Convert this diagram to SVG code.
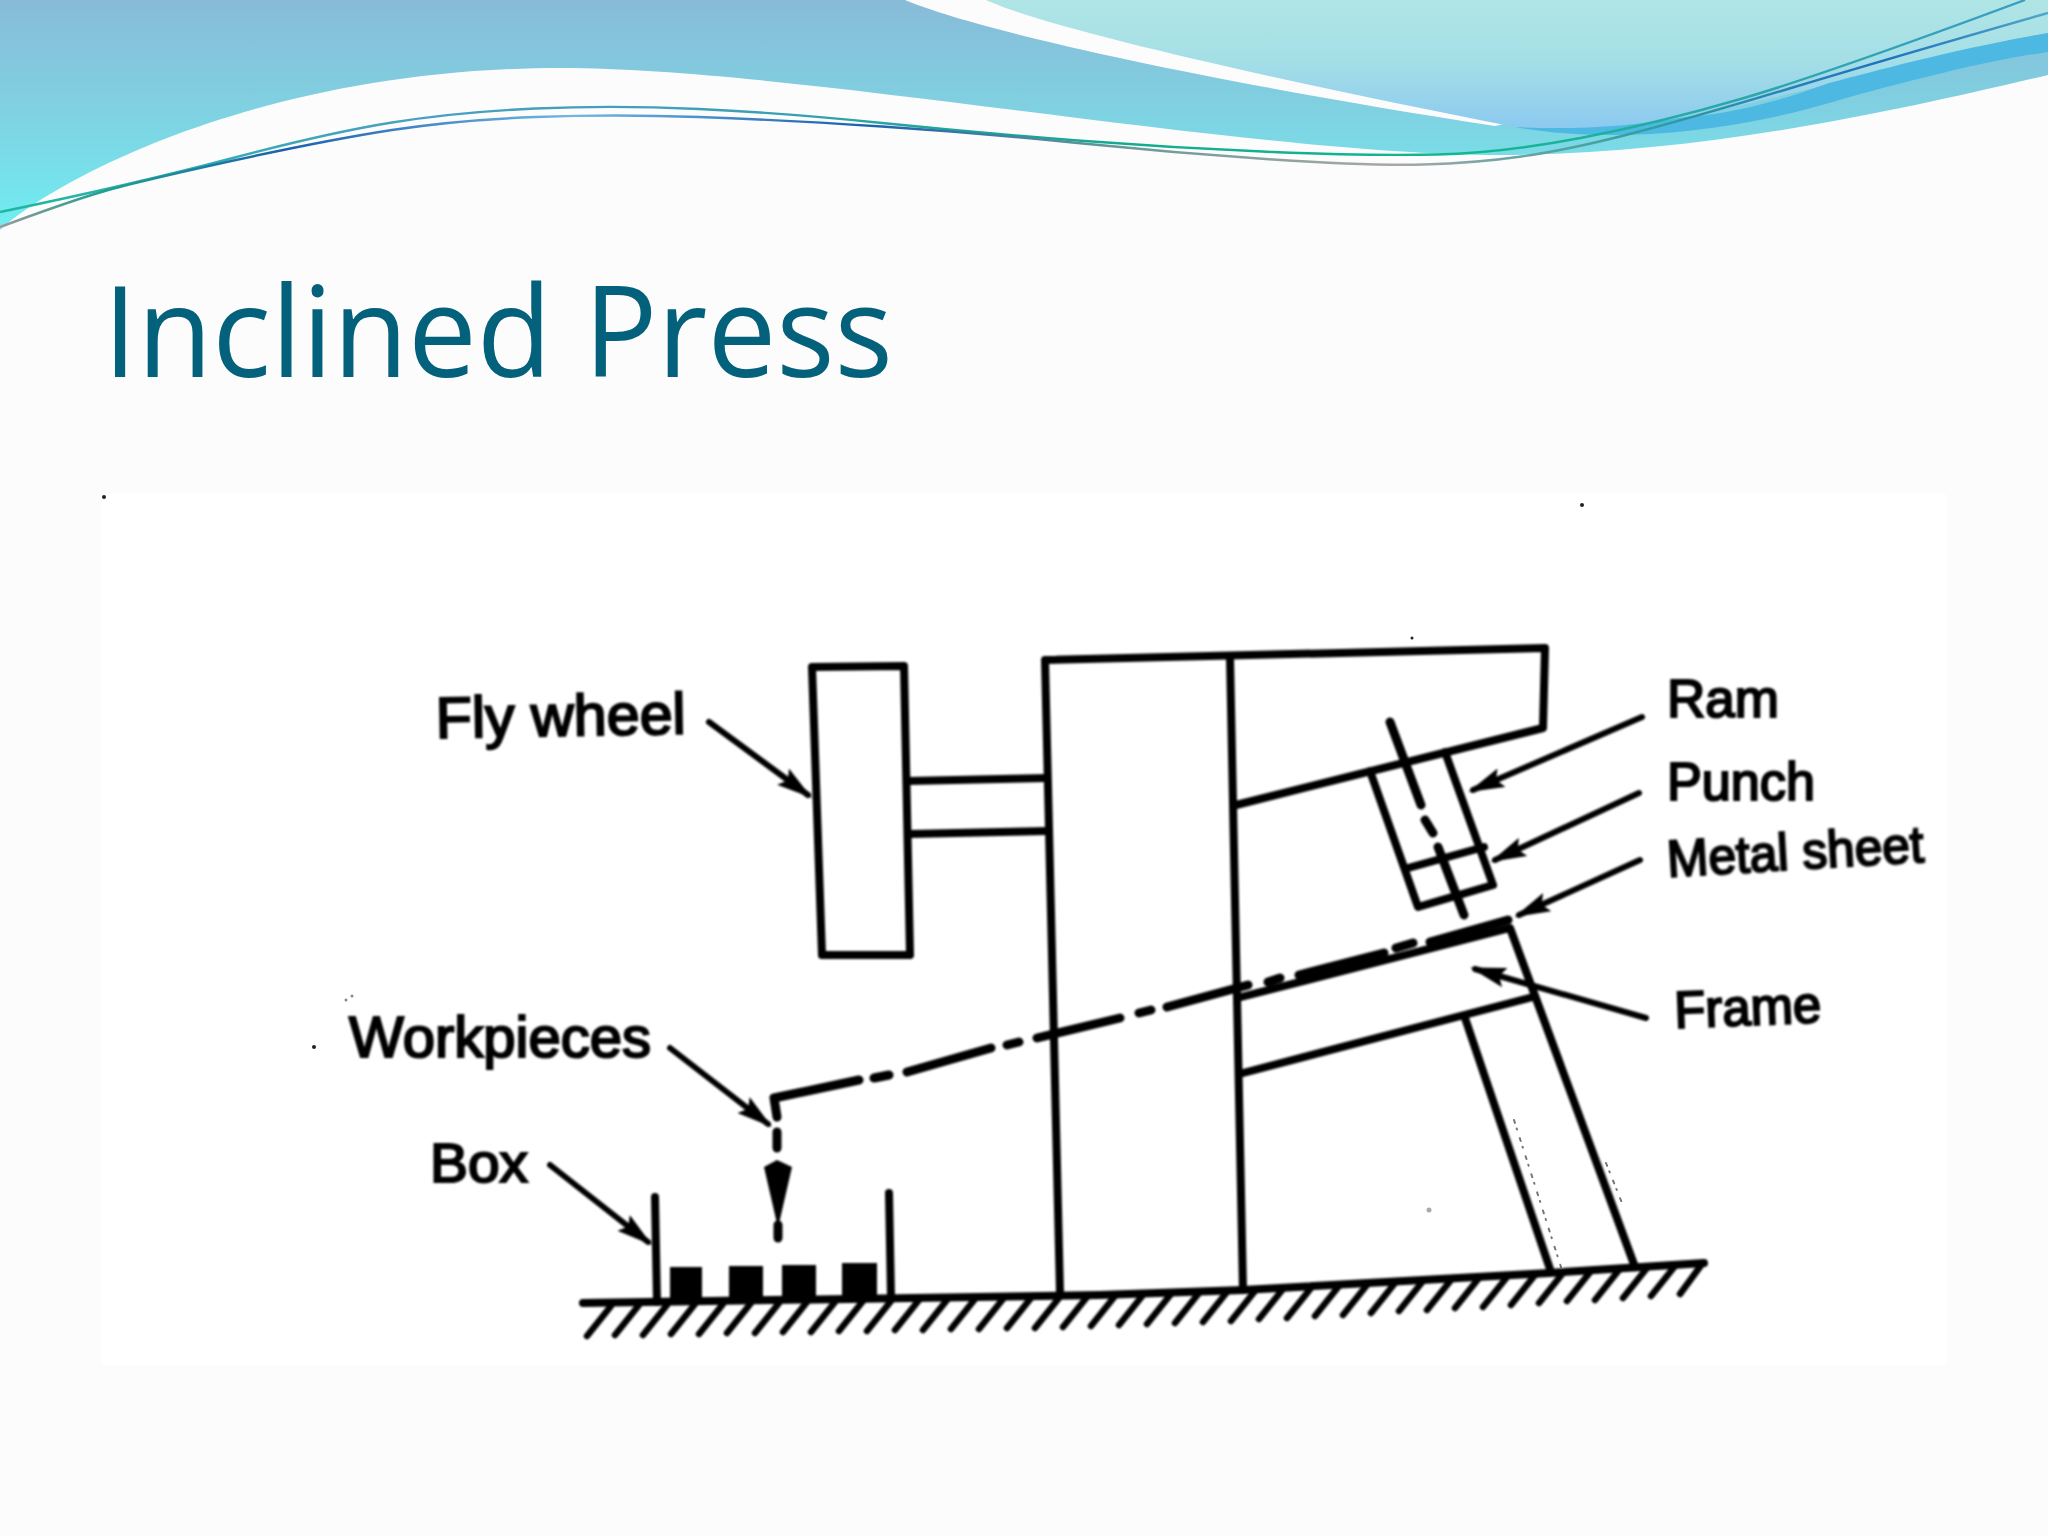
<svg xmlns="http://www.w3.org/2000/svg" width="2048" height="1536" viewBox="0 0 2048 1536">
<defs>
<linearGradient id="bandBlue" x1="0" y1="0" x2="0" y2="230" gradientUnits="userSpaceOnUse"><stop offset="0" stop-color="#88bbd8"/><stop offset="0.5" stop-color="#7fd2e2"/><stop offset="1" stop-color="#70eef2"/></linearGradient>
<linearGradient id="bandLight" x1="0" y1="0" x2="0" y2="130" gradientUnits="userSpaceOnUse"><stop offset="0" stop-color="#b0e5e5"/><stop offset="0.45" stop-color="#a5dfe6"/><stop offset="1" stop-color="#8bc9f0"/></linearGradient>
<linearGradient id="lineA" x1="0" y1="0" x2="2048" y2="0" gradientUnits="userSpaceOnUse"><stop offset="0" stop-color="#1cb8a0"/><stop offset="0.2" stop-color="#4aa0c0"/><stop offset="0.35" stop-color="#3f9fb8"/><stop offset="0.5" stop-color="#14a890"/><stop offset="0.72" stop-color="#10b890"/><stop offset="0.85" stop-color="#2aa8a8"/><stop offset="1" stop-color="#3a9cc8"/></linearGradient>
<linearGradient id="lineB" x1="0" y1="0" x2="2048" y2="0" gradientUnits="userSpaceOnUse"><stop offset="0" stop-color="#999999"/><stop offset="0.05" stop-color="#20a090"/><stop offset="0.14" stop-color="#1c60b0"/><stop offset="0.28" stop-color="#70b8e0"/><stop offset="0.42" stop-color="#1c60b0"/><stop offset="0.55" stop-color="#6a9a98"/><stop offset="0.68" stop-color="#a8a8a8"/><stop offset="0.8" stop-color="#30a0a0"/><stop offset="0.92" stop-color="#2070c0"/><stop offset="1" stop-color="#50a8c8"/></linearGradient>
<filter id="soft" x="-5%" y="-5%" width="110%" height="110%"><feGaussianBlur stdDeviation="0.9"/></filter>
<marker id="head" viewBox="0 0 36 20" refX="31" refY="10" markerWidth="36" markerHeight="20" markerUnits="userSpaceOnUse" orient="auto"><path d="M0,0 L36,10 L0,20 L6,10 Z" fill="#000"/></marker>
</defs>
<style>
.ink{fill:none;stroke:#000;stroke-width:8;stroke-linecap:round;stroke-linejoin:round}
.hatch{fill:none;stroke:#000;stroke-width:6.5;stroke-linecap:round}
.dash{fill:none;stroke:#000;stroke-width:9;stroke-linecap:round;stroke-linejoin:round}
.lead{fill:none;stroke:#000;stroke-width:6;stroke-linecap:round;marker-end:url(#head)}
.label{font-family:"Liberation Sans",Arial,sans-serif;fill:#000;stroke:#000;stroke-width:2.2}
.dust{fill:none;stroke:#777;stroke-width:2;stroke-dasharray:3 6 1 9;stroke-linecap:round}
</style>
<rect id="background" width="2048" height="1536" fill="#fdfcfd"/>
<g id="waves">
<path d="M0,0 H905 C990,35 1230,85 1495,126 L2048,0 V75 C1900,110 1700,155 1500,155 C1250,155 800,68 562,68 C260,68 55,180 0,230 Z" fill="url(#bandBlue)"/>
<path d="M986,0 C1050,30 1300,85 1515,127 C1570,134 1630,127 1685,117 C1760,105 1950,50 2048,33 V0 Z" fill="url(#bandLight)"/>
<path d="M1515,127 C1600,143 1720,135 1829,103 C1910,80 1990,60 2048,52 V33 C1950,50 1880,70 1829,83 C1770,105 1720,115 1685,117 C1630,127 1570,130 1515,127 Z" fill="#4db8e2"/>
<path d="M0,212 Q131,185 229,159 T392,122.5 T535.5,108.5 T699,109 T882,123 T1077.5,140.5 T1273,152 T1436.5,154.5 T1580.5,138 T1744,98 T2025,0" fill="none" stroke="url(#lineA)" stroke-width="2.4"/>
<path d="M0,227 Q65,203 98,193 T229,161.5 T392,130 T535.5,117 T699,117 T882,126.5 T1077.5,143 T1273,159.5 T1423.5,164.5 T1521.5,156.5 T1626,135 T1789.5,88.5 T2048,13" fill="none" stroke="url(#lineB)" stroke-width="2.4"/>
</g>
<text id="title" x="103" y="377" font-family="'Open Sans','Noto Sans',sans-serif" font-size="126" fill="#04617b" textLength="790" lengthAdjust="spacingAndGlyphs">Inclined Press</text>
<rect id="panel" x="102" y="494" width="1844" height="871" fill="#ffffff"/>
<g id="specks" fill="#222">
<circle cx="104" cy="497" r="2"/><circle cx="1582" cy="505" r="2"/><circle cx="314" cy="1047" r="2"/><circle cx="1412" cy="638" r="1.5"/>
<circle cx="346" cy="1000" r="1.5" fill="#888"/><circle cx="352" cy="996" r="1.5" fill="#888"/><circle cx="1429" cy="1210" r="2.5" fill="#aaa"/>
<path class="dust" d="M1514,1120 L1561,1267 M1606,1163 L1622,1203"/>
</g>
<g id="drawing" filter="url(#soft)">
<g id="ground">
<path class="ink" d="M583,1303 L1100,1295 L1243,1290 L1549,1273 L1704,1263"/>
<path class="hatch" d="M611,1306l-24,30M639,1305l-24,30M667,1305l-24,30M695,1304l-24,30M723,1304l-24,30M751,1303l-24,30M779,1303l-24,30M807,1302l-24,30M835,1302l-24,30M863,1301l-24,30M891,1301l-24,30M919,1300l-24,30M947,1300l-24,30M975,1299l-24,30M1003,1299l-24,30M1031,1298l-24,30M1059,1298l-24,30M1087,1297l-24,30M1115,1296l-24,30M1143,1295l-24,30M1171,1294l-24,30M1199,1293l-24,30M1227,1292l-24,30M1255,1291l-24,30M1283,1289l-24,30M1311,1288l-24,30M1339,1286l-24,30M1367,1285l-24,30M1395,1283l-24,30M1423,1281l-24,30M1451,1280l-24,30M1479,1278l-24,30M1507,1277l-24,30M1535,1275l-24,30M1563,1273l-24,30M1591,1271l-24,30M1619,1270l-24,30M1647,1268l-24,30M1675,1266l-24,30M1702,1264l-22,30"/>
</g>
<g id="flywheel">
<path class="ink" d="M812,667 L904,666 L910,955 L822,955 Z"/>
<path class="ink" d="M908,781 L1047,778 M910,834 L1047,831"/>
</g>
<g id="press-frame">
<path class="ink" d="M1060,1293 L1045,660 L1545,648 L1543,728 L1236,805"/>
<path class="ink" d="M1230,657 L1243,1290"/>
<path class="ink" d="M1241,997 L1510,928 L1635,1267"/>
<path class="ink" d="M1243,1073 L1533,997"/>
<path class="ink" d="M1465,1018 L1551,1272"/>
</g>
<g id="punch">
<path class="ink" d="M1370,771 L1418,907 L1493,885 L1445,752"/>
<path class="ink" d="M1408,868 L1484,847"/>
<path class="dash" d="M1390,722 L1421,805 M1425,820 L1433,833 M1438,847 L1464,915"/>
</g>
<g id="feed-path">
<path class="dash" d="M777,1117 L774,1098 L859,1080 M874,1078 L889,1075 M907,1072 L991,1048 M1007,1045 L1019,1042 M1037,1038 L1120,1018 M1139,1013 L1151,1010 M1167,1007 L1248,985 M1268,982 L1280,978 M1299,975 L1384,953 M1396,948 L1413,943 M1430,942 L1508,920 M777,1132 L777,1148 M778,1225 L778,1238"/>
<path d="M777,1160 L792,1167 L778,1228 L764,1167 Z" fill="#000"/>
</g>
<g id="box">
<path class="ink" d="M655,1197 L657,1302 M889,1193 L891,1297"/>
<g fill="#000">
<rect x="670" y="1267" width="32" height="34"/><rect x="729" y="1266" width="34" height="34"/><rect x="782" y="1265" width="34" height="34"/><rect x="842" y="1263" width="35" height="34"/>
</g>
</g>
<g id="connectors">
<path class="lead" d="M709,722 L808,795"/>
<path class="lead" d="M670,1048 L768,1124"/>
<path class="lead" d="M550,1165 L648,1242"/>
<path class="lead" d="M1642,717 L1473,790"/>
<path class="lead" d="M1639,793 L1495,860"/>
<path class="lead" d="M1640,860 L1519,915"/>
<path class="lead" d="M1646,1018 L1475,969"/>
</g>
<g id="labels">
<text class="label" x="436" y="738" font-size="58" textLength="250" lengthAdjust="spacingAndGlyphs" transform="rotate(-1 436 738)">Fly wheel</text>
<text class="label" x="349" y="1057" font-size="57" textLength="302" lengthAdjust="spacingAndGlyphs">Workpieces</text>
<text class="label" x="430" y="1182" font-size="55" textLength="98" lengthAdjust="spacingAndGlyphs">Box</text>
<text class="label" x="1667" y="717" font-size="54" textLength="112" lengthAdjust="spacingAndGlyphs">Ram</text>
<text class="label" x="1667" y="800" font-size="53" textLength="148" lengthAdjust="spacingAndGlyphs">Punch</text>
<text class="label" x="1668" y="877" font-size="52" textLength="257" lengthAdjust="spacingAndGlyphs" transform="rotate(-3.4 1668 877)">Metal sheet</text>
<text class="label" x="1675" y="1028" font-size="52" textLength="147" lengthAdjust="spacingAndGlyphs" transform="rotate(-2.3 1675 1028)">Frame</text>
</g>
</g>
</svg>
